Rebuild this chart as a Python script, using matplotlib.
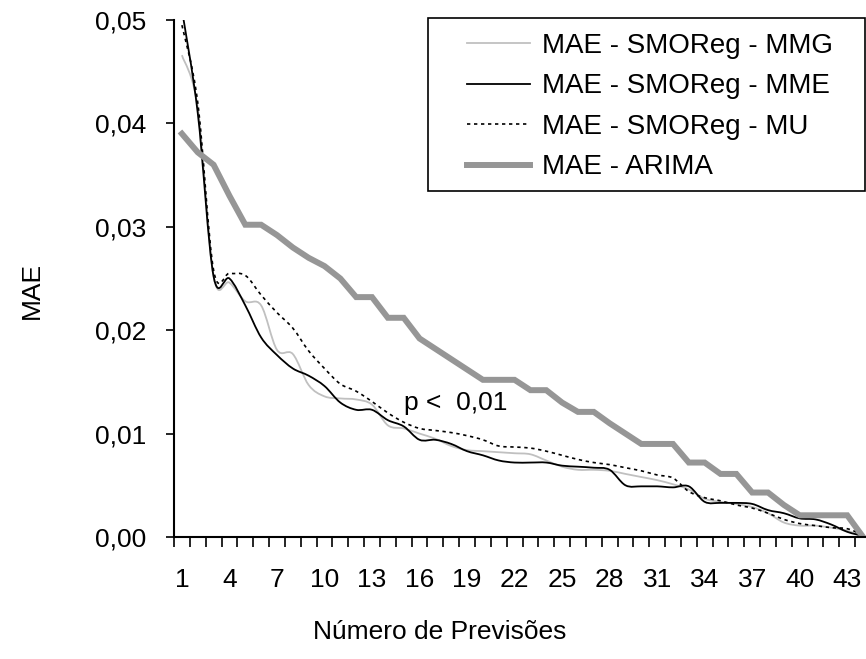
import matplotlib
matplotlib.use("Agg")
import matplotlib.pyplot as plt
from matplotlib.ticker import FuncFormatter, FixedLocator
from matplotlib.path import Path
from matplotlib.patches import PathPatch, Rectangle
from matplotlib.lines import Line2D

plt.rcParams["font.family"] = ["Liberation Sans", "DejaVu Sans"]

# Number of forecasts (x categories)
n_prev = list(range(1, 45))

# MAE per number of forecasts, one list per model
mae_mmg = [0.0466, 0.0415, 0.0252, 0.0246, 0.0228, 0.0224, 0.0181, 0.0177, 0.0147, 0.0136,
           0.0134, 0.0133, 0.0128, 0.0108, 0.0105, 0.0100, 0.0095, 0.0088, 0.0084, 0.0083,
           0.0082, 0.0081, 0.0080, 0.0074, 0.0068, 0.0065, 0.0065, 0.0064, 0.0061, 0.0058,
           0.0055, 0.0051, 0.0046, 0.0037, 0.0034, 0.0032, 0.0029, 0.0023, 0.0014, 0.0011,
           0.0011, 0.0009, 0.0006, 0.0001]
mae_mme = [0.0510, 0.0410, 0.0252, 0.0250, 0.0224, 0.0193, 0.0176, 0.0163, 0.0156, 0.0146,
           0.0130, 0.0123, 0.0123, 0.0113, 0.0107, 0.0094, 0.0094, 0.0090, 0.0083, 0.0079,
           0.0074, 0.0072, 0.0072, 0.0072, 0.0069, 0.0068, 0.0067, 0.0065, 0.0050, 0.0049,
           0.0049, 0.0048, 0.0049, 0.0034, 0.0033, 0.0033, 0.0032, 0.0026, 0.0023, 0.0018,
           0.0017, 0.0012, 0.0005, 0.0001]
mae_mu = [0.0495, 0.0420, 0.0258, 0.0255, 0.0253, 0.0234, 0.0217, 0.0202, 0.0180, 0.0163,
          0.0148, 0.0141, 0.0131, 0.0120, 0.0111, 0.0105, 0.0103, 0.0101, 0.0098, 0.0094,
          0.0088, 0.0087, 0.0086, 0.0083, 0.0079, 0.0075, 0.0072, 0.0070, 0.0067, 0.0064,
          0.0060, 0.0057, 0.0044, 0.0038, 0.0035, 0.0031, 0.0028, 0.0023, 0.0017, 0.0013,
          0.0011, 0.0009, 0.0008, 0.0002]
mae_arima = [0.0390, 0.0372, 0.0360, 0.0330, 0.0302, 0.0302, 0.0292, 0.0280, 0.0270, 0.0262,
             0.0250, 0.0232, 0.0232, 0.0212, 0.0212, 0.0192, 0.0182, 0.0172, 0.0162, 0.0152,
             0.0152, 0.0152, 0.0142, 0.0142, 0.0130, 0.0121, 0.0121, 0.0110, 0.0100, 0.0090,
             0.0090, 0.0090, 0.0072, 0.0072, 0.0061, 0.0061, 0.0043, 0.0043, 0.0031, 0.0021,
             0.0021, 0.0021, 0.0021, 0.0000]

labels = ["MAE - SMOReg - MMG", "MAE - SMOReg - MME", "MAE - SMOReg - MU", "MAE - ARIMA"]
y_ticks = [0.0, 0.01, 0.02, 0.03, 0.04, 0.05]
x_labels = list(range(1, 44, 3))

FS = 19
FS_LEG = 20


def smooth_path(x, y):
    # cubic bezier through every point (same idea as a "smoothed line" in a spreadsheet)
    n = len(x)
    verts = [(x[0], y[0])]
    codes = [Path.MOVETO]
    for i in range(n - 1):
        xa, ya = x[max(i - 1, 0)], y[max(i - 1, 0)]
        xb, yb = x[min(i + 2, n - 1)], y[min(i + 2, n - 1)]
        c1 = (x[i] + (x[i + 1] - xa) / 6, y[i] + (y[i + 1] - ya) / 6)
        c2 = (x[i + 1] - (xb - x[i]) / 6, y[i + 1] - (yb - y[i]) / 6)
        verts += [c1, c2, (x[i + 1], y[i + 1])]
        codes += [Path.CURVE4] * 3
    return Path(verts, codes)


fig = plt.figure(figsize=(8.66, 6.59), dpi=100)
ax = fig.add_axes([174 / 866, 122 / 659, 697 / 866, 517 / 659])

styles = [
    dict(color="#c0c0c0", lw=1.3, ls="-"),
    dict(color="black", lw=1.3, ls="-"),
    dict(color="black", lw=1.2, ls=(0, (2, 2.2))),
]
for ys, st in zip([mae_mmg, mae_mme, mae_mu], styles):
    ax.add_patch(PathPatch(smooth_path(n_prev, ys), fill=False, edgecolor=st["color"],
                           lw=st["lw"], linestyle=st["ls"], capstyle="butt"))
ax.plot(n_prev, mae_arima, color="#969696", lw=4.3, solid_joinstyle="miter")

ax.set_xlim(0.5, 44.5)
ax.set_ylim(0, 0.05)

for side in ("top", "right"):
    ax.spines[side].set_visible(False)
for side in ("left", "bottom"):
    ax.spines[side].set_linewidth(1.5)

# category ticks sit between points, labels every third point
ax.xaxis.set_major_locator(FixedLocator([i + 0.5 for i in range(0, 45)]))
ax.xaxis.set_major_formatter(FuncFormatter(lambda v, p: ""))
ax.xaxis.set_minor_locator(FixedLocator(x_labels))
ax.xaxis.set_minor_formatter(FuncFormatter(lambda v, p: f"{int(round(v))}"))
ax.tick_params(axis="x", which="major", direction="out", length=7, width=1.2)
ax.tick_params(axis="x", which="minor", length=0, pad=22, labelsize=FS)

ax.set_yticks(y_ticks)
ax.yaxis.set_major_formatter(FuncFormatter(lambda v, p: f"{v:.2f}".replace(".", ",")))
ax.tick_params(axis="y", direction="out", length=6, width=1.2, pad=14, labelsize=FS)

fig.text(440 / 866, 1 - 632 / 659, "Número de Previsões", ha="center", va="center",
         fontsize=FS)
fig.text(32 / 866, 1 - 290 / 659, "MAE", ha="center", va="center", rotation=90,
         fontsize=FS)

ax.text(15.0, 0.013, "p <  0,01", ha="left", va="center", fontsize=FS)

# legend: entries without frame, box drawn separately
handles = [Line2D([], [], **styles[0]), Line2D([], [], **styles[1]),
           Line2D([], [], **styles[2]), Line2D([], [], color="#969696", lw=4.3)]
ax.legend(handles, labels, loc="upper left", bbox_to_anchor=(467 / 866, 1 - 33 / 659),
          bbox_transform=fig.transFigure, borderaxespad=0, borderpad=0, frameon=False,
          fontsize=FS_LEG, handlelength=2.27, handletextpad=0.43, labelspacing=0.52)
fig.add_artist(Rectangle((428 / 866, 1 - 191 / 659), 437 / 866, 173 / 659,
                         transform=fig.transFigure, fill=False, ec="black", lw=1.2))

fig.savefig("out.png", dpi=100)
